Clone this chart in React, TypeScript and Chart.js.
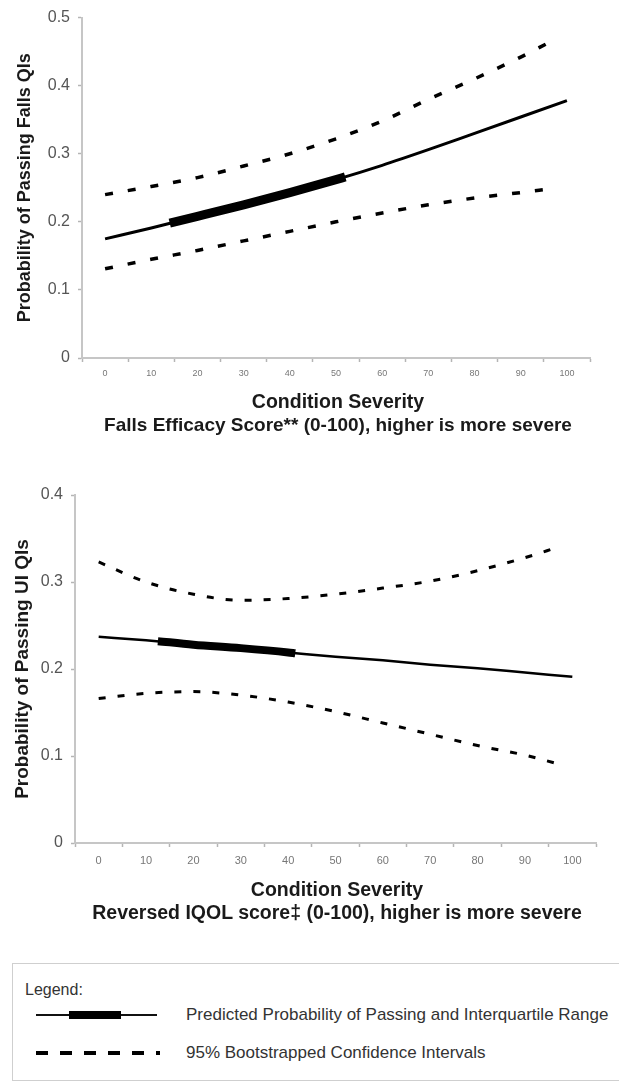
import React, { useEffect, useRef } from "react";
import { Chart, registerables } from "chart.js";

Chart.register(...registerables);

const FONT = "'Liberation Sans', Arial, Helvetica, sans-serif";

// ---------- Data ----------
const severityTicks = [0, 10, 20, 30, 40, 50, 60, 70, 80, 90, 100];

// Falls chart
const fallsSeverity = [0, 10, 20, 30, 40, 50, 60, 70, 80, 90, 100];
const fallsPredicted = [0.175, 0.191, 0.208, 0.225, 0.243, 0.262, 0.283, 0.306, 0.33, 0.354, 0.378];
const fallsIqrSeverity = [14, 20, 30, 40, 50, 52];
const fallsIqrPredicted = [0.198, 0.208, 0.225, 0.243, 0.262, 0.266];
const fallsCiSeverity = [0, 10, 20, 30, 40, 50, 60, 70, 80, 90, 96];
const fallsUpper = [0.24, 0.252, 0.265, 0.282, 0.3, 0.322, 0.348, 0.38, 0.41, 0.442, 0.463];
const fallsLower = [0.131, 0.145, 0.158, 0.172, 0.186, 0.2, 0.213, 0.225, 0.235, 0.243, 0.248];

// UI chart
const uiSeverity = [0, 10, 20, 30, 40, 50, 60, 70, 80, 90, 100];
const uiPredicted = [0.237, 0.233, 0.228, 0.224, 0.219, 0.214, 0.21, 0.205, 0.201, 0.196, 0.191];
const uiIqrSeverity = [12.5, 20, 30, 40, 41.5];
const uiIqrPredicted = [0.232, 0.228, 0.224, 0.219, 0.218];
const uiCiSeverity = [0, 10, 20, 30, 40, 50, 60, 70, 80, 90, 97];
const uiUpper = [0.323, 0.3, 0.286, 0.279, 0.281, 0.286, 0.293, 0.301, 0.313, 0.328, 0.34];
const uiLower = [0.166, 0.172, 0.174, 0.17, 0.162, 0.151, 0.138, 0.125, 0.112, 0.101, 0.091];

const fallsYTicks = [0, 0.1, 0.2, 0.3, 0.4, 0.5];
const uiYTicks = [0, 0.1, 0.2, 0.3, 0.4];

const pts = (xs: number[], ys: number[]) => xs.map((x, i) => ({ x, y: ys[i] }));

type PanelProps = {
  top: number;
  height: number;
  padTop: number;
  padRight: number;
  yWidth: number;
  xHeight: number;
  yMax: number;
  yTicks: number[];
  yTitle: string;
  yTitleSize: number;
  yTitleCenter: number;
  xTickSize: number;
  xTickPad: number;
  mainW: number;
  iqrW: number;
  dash: number[];
  dashW: number;
  severity: number[];
  predicted: number[];
  iqrX: number[];
  iqrY: number[];
  ciX: number[];
  upper: number[];
  lower: number[];
};

function Panel(p: PanelProps) {
  const ref = useRef<HTMLCanvasElement | null>(null);
  useEffect(() => {
    if (!ref.current) return;
    const lineStyle = {
      borderColor: "#000",
      pointRadius: 0,
      cubicInterpolationMode: "monotone",
      borderCapStyle: "butt",
    };
    const chart = new Chart(ref.current, {
      type: "line",
      data: {
        datasets: [
          { ...lineStyle, data: pts(p.severity, p.predicted), borderWidth: p.mainW },
          { ...lineStyle, data: pts(p.iqrX, p.iqrY), borderWidth: p.iqrW },
          { ...lineStyle, data: pts(p.ciX, p.upper), borderWidth: p.dashW, borderDash: p.dash },
          { ...lineStyle, data: pts(p.ciX, p.lower), borderWidth: p.dashW, borderDash: p.dash },
        ],
      },
      options: {
        animation: false,
        responsive: false,
        devicePixelRatio: 1,
        events: [],
        layout: { padding: { top: p.padTop, right: p.padRight, left: 0, bottom: 0 } },
        plugins: { legend: { display: false }, tooltip: { enabled: false } },
        scales: {
          x: {
            type: "linear",
            min: -5,
            max: 105,
            afterBuildTicks: (s: any) => {
              const t: any[] = [{ value: -5 }];
              severityTicks.forEach((v) => {
                t.push({ value: v });
                t.push({ value: v + 5 });
              });
              s.ticks = t;
            },
            ticks: {
              autoSkip: false,
              maxRotation: 0,
              padding: p.xTickPad,
              color: "#777",
              font: { size: p.xTickSize, family: FONT },
              callback: (v: any) => {
                const n = Math.round(Number(v));
                return n % 10 === 0 ? String(n) : "";
              },
            },
            grid: {
              drawOnChartArea: false,
              drawTicks: true,
              tickLength: 4,
              tickWidth: 1.5,
              tickColor: (ctx: any) =>
                Math.round(ctx.tick?.value ?? 0) % 10 === 0 ? "rgba(0,0,0,0)" : "#b5b5b5",
            },
            border: { display: true, color: "#c6c6c6", width: 2 },
            afterFit: (s: any) => {
              s.height = p.xHeight;
            },
          },
          y: {
            type: "linear",
            min: 0,
            max: p.yMax,
            afterBuildTicks: (s: any) => {
              s.ticks = p.yTicks.map((v) => ({ value: v }));
            },
            ticks: {
              padding: 8,
              color: "#555",
              font: { size: 16, family: FONT },
              callback: (v: any) => (Number(v) === 0 ? "0" : Number(v).toFixed(1)),
            },
            grid: {
              drawOnChartArea: false,
              drawTicks: true,
              tickLength: 4,
              tickWidth: 1.5,
              tickColor: "#b5b5b5",
            },
            border: { display: true, color: "#c6c6c6", width: 2 },
            title: {
              display: true,
              text: p.yTitle,
              color: "#1a1a1a",
              font: { size: p.yTitleSize, weight: "bold", family: FONT, lineHeight: 1.2 },
              padding: { top: p.yTitleCenter - p.yTitleSize * 0.6, bottom: 0 },
            },
            afterFit: (s: any) => {
              s.width = p.yWidth;
            },
          },
        },
      },
    } as any);
    return () => chart.destroy();
  }, []);
  return (
    <canvas
      ref={ref}
      width={619}
      height={p.height}
      style={{ position: "absolute", left: 0, top: p.top, width: 619, height: p.height }}
    />
  );
}

function CenterText(props: { text: string; cx: number; cy: number; size: number; bold?: boolean }) {
  return (
    <div
      style={{
        position: "absolute",
        left: props.cx - 310,
        width: 620,
        top: props.cy - props.size * 0.6,
        height: props.size * 1.2,
        lineHeight: `${props.size * 1.2}px`,
        fontSize: props.size,
        fontWeight: props.bold ? 700 : 400,
        fontFamily: FONT,
        color: "#1a1a1a",
        textAlign: "center",
        whiteSpace: "nowrap",
      }}
    >
      {props.text}
    </div>
  );
}

function LeftText(props: { text: string; x: number; cy: number; size: number }) {
  return (
    <div
      style={{
        position: "absolute",
        left: props.x,
        top: props.cy - props.size * 0.6,
        height: props.size * 1.2,
        lineHeight: `${props.size * 1.2}px`,
        fontSize: props.size,
        fontFamily: FONT,
        color: "#333",
        whiteSpace: "nowrap",
      }}
    >
      {props.text}
    </div>
  );
}

export default function App() {
  return (
    <div
      style={{
        position: "absolute",
        left: 0,
        top: 0,
        width: 619,
        height: 1085,
        overflow: "hidden",
        background: "#fff",
      }}
    >
      <Panel
        top={0}
        height={400}
        padTop={16}
        padRight={29}
        yWidth={82}
        xHeight={42}
        yMax={0.5}
        yTicks={fallsYTicks}
        yTitle="Probability of Passing Falls QIs"
        yTitleSize={18}
        yTitleCenter={25}
        xTickSize={9}
        xTickPad={6}
        mainW={3}
        iqrW={9}
        dash={[8, 15]}
        dashW={3.5}
        severity={fallsSeverity}
        predicted={fallsPredicted}
        iqrX={fallsIqrSeverity}
        iqrY={fallsIqrPredicted}
        ciX={fallsCiSeverity}
        upper={fallsUpper}
        lower={fallsLower}
      />
      <CenterText text="Condition Severity" cx={338} cy={402} size={19.5} bold />
      <CenterText
        text="Falls Efficacy Score** (0-100), higher is more severe"
        cx={338}
        cy={425}
        size={19}
        bold
      />

      <Panel
        top={440}
        height={440}
        padTop={55}
        padRight={23}
        yWidth={75}
        xHeight={37}
        yMax={0.4}
        yTicks={uiYTicks}
        yTitle="Probability of Passing UI QIs"
        yTitleSize={19}
        yTitleCenter={23}
        xTickSize={11}
        xTickPad={7}
        mainW={2.5}
        iqrW={8}
        dash={[7, 12]}
        dashW={3}
        severity={uiSeverity}
        predicted={uiPredicted}
        iqrX={uiIqrSeverity}
        iqrY={uiIqrPredicted}
        ciX={uiCiSeverity}
        upper={uiUpper}
        lower={uiLower}
      />
      <CenterText text="Condition Severity" cx={337} cy={890} size={19.5} bold />
      <CenterText
        text="Reversed IQOL score‡ (0-100), higher is more severe"
        cx={337}
        cy={913}
        size={19.5}
        bold
      />

      {/* Legend box */}
      <div
        style={{
          position: "absolute",
          left: 12,
          top: 963,
          width: 640,
          height: 118,
          border: "1.5px solid #cfcfcf",
          boxSizing: "border-box",
        }}
      />
      <LeftText text="Legend:" x={25} cy={990} size={16} />
      <div style={{ position: "absolute", left: 36, top: 1014, width: 121, height: 2, background: "#111" }} />
      <div style={{ position: "absolute", left: 69, top: 1011, width: 52, height: 8, background: "#000" }} />
      <LeftText text="Predicted Probability of Passing and Interquartile Range" x={186} cy={1015} size={17} />
      <div
        style={{
          position: "absolute",
          left: 36,
          top: 1051,
          width: 124,
          height: 4,
          background:
            "repeating-linear-gradient(to right, #000 0px, #000 12px, transparent 12px, transparent 24px)",
        }}
      />
      <LeftText text="95% Bootstrapped Confidence Intervals" x={186} cy={1053} size={17} />
    </div>
  );
}
